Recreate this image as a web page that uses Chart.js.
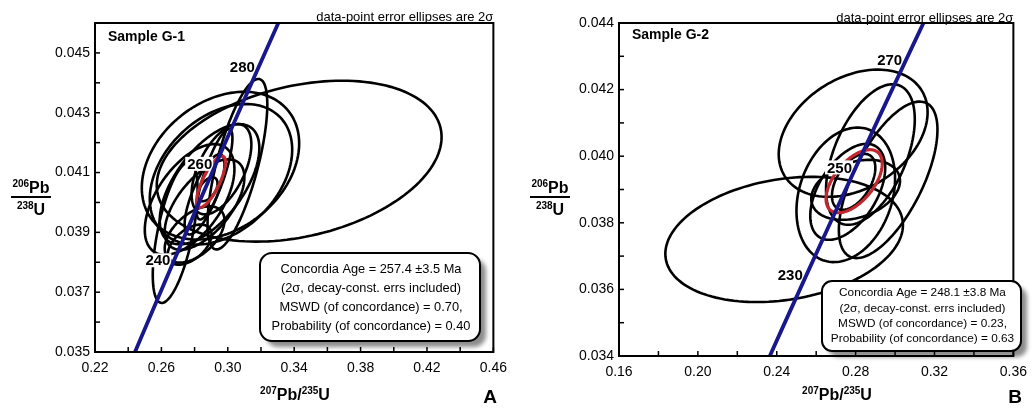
<!DOCTYPE html>
<html>
<head>
<meta charset="utf-8">
<script src="https://cdn.jsdelivr.net/npm/chart.js@4.4.0/dist/chart.umd.min.js"></script>
<style>
body { margin: 0; background: #fff; width: 1035px; height: 408px; position: relative; overflow: hidden; }
canvas { position: absolute; top: 0; }
#chart-a { left: 0; }
#chart-b { left: 515px; }
</style>
</head>
<body>
<canvas id="chart-a" width="515" height="408"></canvas>
<canvas id="chart-b" width="520" height="408"></canvas>
<script>
// concordia nodes: age (Ma) -> 207Pb/235U, 206Pb/238U
const concordiaAges = [200, 210, 220, 230, 240, 250, 260, 270, 280, 290, 300, 310];
const concordiaX = [0.21771, 0.22976, 0.24193, 0.25422, 0.26664, 0.27917, 0.29183, 0.30462, 0.31753, 0.33057, 0.34374, 0.35704];
const concordiaY = [0.031511, 0.033113, 0.034717, 0.036323, 0.037932, 0.039543, 0.041157, 0.042773, 0.044392, 0.046014, 0.047637, 0.049264];

// Sample G-1 error ellipses (centre, 2 sigma half widths, correlation)
const g1X = [0.343, 0.3058, 0.2956, 0.2959, 0.2962, 0.2683, 0.277, 0.28, 0.286, 0.277, 0.289, 0.292, 0.286, 0.2878];
const g1Y = [0.04138, 0.04128, 0.04123, 0.04094, 0.04111, 0.03899, 0.03859, 0.03893, 0.03993, 0.04010, 0.04061, 0.04094, 0.04027, 0.04044];
const g1SX = [0.0858, 0.018, 0.0474, 0.0429, 0.018, 0.0135, 0.0132, 0.018, 0.024, 0.027, 0.03, 0.0108, 0.012, 0.006];
const g1SY = [0.00269, 0.00285, 0.00247, 0.00235, 0.00151, 0.00235, 0.00067, 0.00094, 0.00151, 0.00185, 0.00201, 0.00151, 0.00134, 0.0004];
const g1Rho = [0.30, 0.70, 0.30, 0.35, 0.55, 0.60, 0.50, 0.50, 0.60, 0.55, 0.60, 0.80, 0.75, 0.50];
const g1AgeEllipse = [0.2899, 0.04069, 0.0087, 0.000856, 0.76];
const g1AgeLabels = [240, 260, 280];
const g1XTicks = [0.22, 0.24, 0.26, 0.28, 0.30, 0.32, 0.34, 0.36, 0.38, 0.40, 0.42, 0.44, 0.46];
const g1YTicks = [0.035, 0.036, 0.037, 0.038, 0.039, 0.040, 0.041, 0.042, 0.043, 0.044, 0.045, 0.046];
const g1Text = ["Concordia Age = 257.4 ±3.5 Ma", "(2σ, decay-const. errs included)", "MSWD (of concordance) = 0.70,", "Probability (of concordance) = 0.40"];

// Sample G-2
const g2X = [0.24375, 0.27875, 0.2875, 0.2965, 0.275, 0.276, 0.28, 0.279];
const g2Y = [0.03750, 0.04069, 0.04005, 0.03929, 0.03884, 0.03893, 0.03899, 0.03923];
const g2SX = [0.06025, 0.03775, 0.0225, 0.025, 0.025, 0.019, 0.0225, 0.011];
const g2SY = [0.00188, 0.00191, 0.00211, 0.00235, 0.00202, 0.00144, 0.0009, 0.00084];
const g2Rho = [0.23, 0.33, 0.50, 0.64, 0.24, 0.50, 0.30, 0.50];
const g2AgeEllipse = [0.27925, 0.039248, 0.01425, 0.000947, 0.56];
const g2AgeLabels = [230, 250, 270];
const g2XTicks = [0.16, 0.18, 0.20, 0.22, 0.24, 0.26, 0.28, 0.30, 0.32, 0.34, 0.36];
const g2YTicks = [0.034, 0.035, 0.036, 0.037, 0.038, 0.039, 0.040, 0.041, 0.042, 0.043, 0.044];
const g2Text = ["Concordia Age = 248.1 ±3.8 Ma", "(2σ, decay-const. errs included)", "MSWD (of concordance) = 0.23,", "Probability (of concordance) = 0.63"];

const FONT = '"Liberation Sans", Arial, sans-serif';

function ellipsePath(ctx, xs, ys, e) {
    const [cx, cy, sx, sy, r] = e;
    const k = Math.sqrt(1 - r * r);
    ctx.beginPath();
    for (let i = 0; i <= 144; i++) {
        const t = i / 144 * 2 * Math.PI;
        const px = xs.getPixelForValue(cx + sx * Math.cos(t));
        const py = ys.getPixelForValue(cy + sy * (r * Math.cos(t) + k * Math.sin(t)));
        if (i) ctx.lineTo(px, py); else ctx.moveTo(px, py);
    }
    ctx.closePath();
}

function richText(ctx, parts, cx, base) {
    let w = 0;
    parts.forEach(p => { ctx.font = p[1] ? 'bold 10px ' + FONT : 'bold 16px ' + FONT; w += ctx.measureText(p[0]).width; });
    let x0 = cx - w / 2;
    ctx.textAlign = 'left'; ctx.textBaseline = 'alphabetic'; ctx.fillStyle = '#000';
    parts.forEach(p => {
        ctx.font = p[1] ? 'bold 10px ' + FONT : 'bold 16px ' + FONT;
        ctx.fillText(p[0], x0, p[1] ? base - 6 : base);
        x0 += ctx.measureText(p[0]).width;
    });
}

function panelPlugin(p) {
    return {
        id: 'panel',
        beforeDatasetsDraw(chart) {
            const { ctx, chartArea: a, scales: { x, y } } = chart;
            ctx.save();
            ctx.beginPath(); ctx.rect(a.left, a.top, a.right - a.left, a.bottom - a.top); ctx.clip();
            ctx.strokeStyle = '#000'; ctx.lineWidth = 2.6;
            p.ex.forEach((cx, i) => {
                ellipsePath(ctx, x, y, [cx, p.ey[i], p.esx[i], p.esy[i], p.erho[i]]);
                ctx.stroke();
            });
            ctx.strokeStyle = '#c1272d'; ctx.lineWidth = 3.2;
            ellipsePath(ctx, x, y, p.age); ctx.stroke();

            ctx.font = 'bold 15px ' + FONT;
            ctx.textAlign = 'right'; ctx.textBaseline = 'middle';
            p.labels.forEach(t => {
                const i = concordiaAges.indexOf(t);
                const px = x.getPixelForValue(concordiaX[i]) - 2;
                const py = y.getPixelForValue(concordiaY[i]) - 4;
                const w = ctx.measureText(String(t)).width;
                ctx.fillStyle = '#fff'; ctx.fillRect(px - w - 2, py - 7, w + 3, 14);
                ctx.fillStyle = '#000'; ctx.fillText(String(t), px, py + 1);
            });
            ctx.restore();
        },
        afterDraw(chart) {
            const { ctx, chartArea: a, scales: { x, y } } = chart;
            ctx.save();
            ctx.strokeStyle = '#000'; ctx.lineWidth = 1.5;
            x.ticks.forEach(t => {
                const px = x.getPixelForValue(t.value);
                ctx.beginPath(); ctx.moveTo(px, a.bottom); ctx.lineTo(px, a.bottom - 5); ctx.stroke();
            });
            y.ticks.forEach(t => {
                const py = y.getPixelForValue(t.value);
                ctx.beginPath(); ctx.moveTo(a.left, py); ctx.lineTo(a.left + 5, py); ctx.stroke();
            });
            ctx.lineWidth = 2;
            ctx.strokeRect(a.left, a.top, a.right - a.left, a.bottom - a.top);

            // result box
            const b = p.box;
            ctx.save();
            ctx.shadowColor = 'rgba(0,0,0,0.45)'; ctx.shadowOffsetX = 6; ctx.shadowOffsetY = 6; ctx.shadowBlur = 4;
            ctx.beginPath(); ctx.roundRect(b.x, b.y, b.w, b.h, b.r);
            ctx.fillStyle = '#fff'; ctx.fill();
            ctx.restore();
            ctx.beginPath(); ctx.roundRect(b.x, b.y, b.w, b.h, b.r);
            ctx.lineWidth = 2; ctx.strokeStyle = '#000'; ctx.stroke();
            ctx.fillStyle = '#000'; ctx.font = b.size + 'px ' + FONT;
            ctx.textAlign = 'center'; ctx.textBaseline = 'middle';
            p.text.forEach((s, i) => ctx.fillText(s, b.x + b.w / 2 + 1, b.lines[i]));

            ctx.font = 'bold 14px ' + FONT; ctx.textAlign = 'left';
            ctx.fillText(p.sample, a.left + 13, p.sampleY);
            ctx.font = '13px ' + FONT; ctx.textAlign = 'right';
            ctx.fillText('data-point error ellipses are 2σ', a.right, p.noteY);
            ctx.font = 'bold 19px ' + FONT; ctx.textAlign = 'center'; ctx.textBaseline = 'alphabetic';
            ctx.fillText(p.letter, p.letterX, 403);

            richText(ctx, [['207', 1], ['Pb/', 0], ['235', 1], ['U', 0]], p.titleX, 400);
            richText(ctx, [['206', 1], ['Pb', 0]], p.fracX, 193);
            ctx.fillRect(p.fracX - 20, 196, 40, 2);
            richText(ctx, [['238', 1], ['U', 0]], p.fracX, 215);
            ctx.restore();
        }
    };
}

function makePanel(id, p) {
    const axisFont = { family: FONT, size: 14 };
    new Chart(document.getElementById(id), {
        type: 'scatter',
        data: {
            datasets: [{
                data: concordiaX.map((v, i) => ({ x: v, y: concordiaY[i] })),
                showLine: true,
                borderColor: '#18188c',
                borderWidth: 3.8,
                pointRadius: 0,
                tension: 0
            }]
        },
        options: {
            responsive: false,
            animation: false,
            layout: { padding: { left: 0, right: p.padRight, top: 23, bottom: 0 } },
            plugins: { legend: { display: false }, tooltip: { enabled: false } },
            scales: {
                x: {
                    type: 'linear', min: p.xTicks[0], max: p.xTicks[p.xTicks.length - 1],
                    afterBuildTicks: s => { s.ticks = p.xTicks.map(v => ({ value: v })); },
                    afterFit: s => { s.height = p.xHeight; },
                    grid: { display: false, drawTicks: false },
                    border: { display: false },
                    ticks: {
                        autoSkip: false, maxRotation: 0, minRotation: 0, padding: 8,
                        color: '#000', font: axisFont,
                        callback: (v, i) => i % 2 ? '' : v.toFixed(2)
                    }
                },
                y: {
                    type: 'linear', min: p.yTicks[0], max: p.yTicks[p.yTicks.length - 1],
                    afterBuildTicks: s => { s.ticks = p.yTicks.map(v => ({ value: v })); },
                    afterFit: s => { s.width = p.yWidth; },
                    grid: { display: false, drawTicks: false },
                    border: { display: false },
                    ticks: {
                        autoSkip: false, padding: 5,
                        color: '#000', font: axisFont,
                        callback: (v, i) => i % 2 ? '' : v.toFixed(3)
                    }
                }
            }
        },
        plugins: [panelPlugin(p)]
    });
}

makePanel('chart-a', {
    ex: g1X, ey: g1Y, esx: g1SX, esy: g1SY, erho: g1Rho, age: g1AgeEllipse, labels: g1AgeLabels,
    xTicks: g1XTicks, yTicks: g1YTicks, text: g1Text,
    yWidth: 95, xHeight: 56, padRight: 20,
    box: { x: 260, y: 253, w: 220, h: 88, r: 12, size: 12.8, lines: [269, 288, 307, 326] },
    sample: 'Sample G-1', sampleY: 37, noteY: 17, letter: 'A', letterX: 490, titleX: 295, fracX: 31
});
makePanel('chart-b', {
    ex: g2X, ey: g2Y, esx: g2SX, esy: g2SY, erho: g2Rho, age: g2AgeEllipse, labels: g2AgeLabels,
    xTicks: g2XTicks, yTicks: g2YTicks, text: g2Text,
    yWidth: 104, xHeight: 52, padRight: 16,
    box: { x: 307, y: 281, w: 199, h: 70, r: 10, size: 11.8, lines: [293, 309, 324, 339] },
    sample: 'Sample G-2', sampleY: 35, noteY: 18, letter: 'B', letterX: 500, titleX: 322, fracX: 35
});
</script>
</body>
</html>
